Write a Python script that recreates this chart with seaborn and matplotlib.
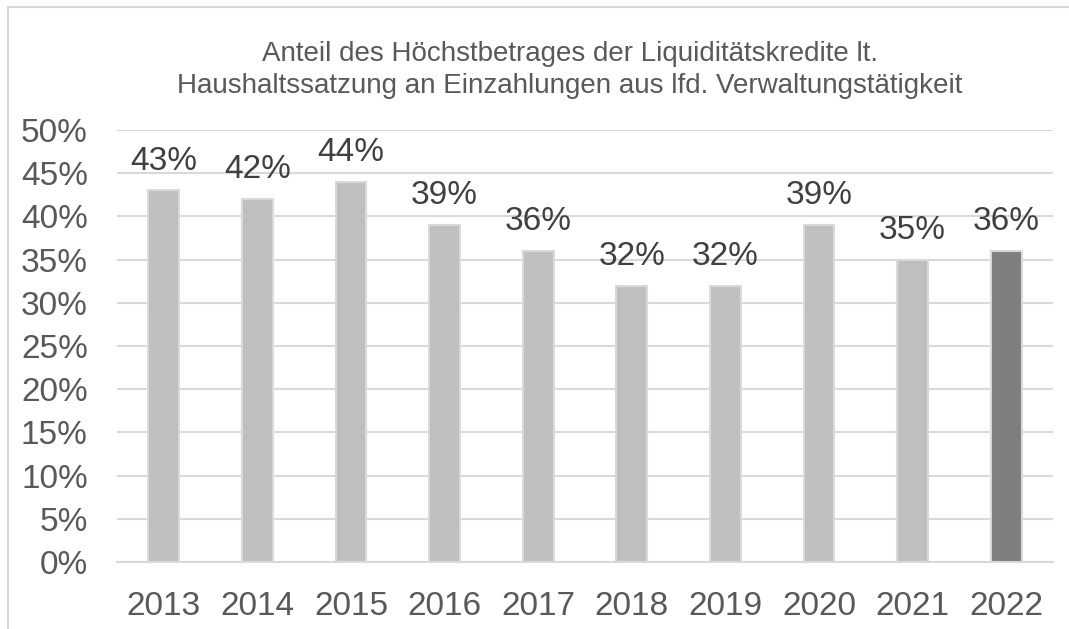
import numpy as np
import pandas as pd
import matplotlib.pyplot as plt
import seaborn as sns
from matplotlib.patches import Rectangle

# chart values
years = ['2013', '2014', '2015', '2016', '2017', '2018', '2019', '2020', '2021', '2022']
shares = [0.43, 0.42, 0.44, 0.39, 0.36, 0.32, 0.32, 0.39, 0.35, 0.36]
title = ('Anteil des Höchstbetrages der Liquiditätskredite lt.\n'
         'Haushaltssatzung an Einzahlungen aus lfd. Verwaltungstätigkeit')

df = pd.DataFrame({'year': years, 'share': shares})

sns.set_style('white')
plt.rcParams['font.family'] = ['Liberation Sans', 'DejaVu Sans']

fig = plt.figure(figsize=(10.69, 6.29), dpi=100)
ax = fig.add_axes([0.1094, 0.1065, 0.8756, 0.6868])

colors = ['#BFBFBF'] * (len(years) - 1) + ['#7F7F7F']
sns.barplot(data=df, x='year', y='share', hue='year', palette=colors,
            legend=False, width=0.33, edgecolor='#D9D9D9', linewidth=1.5,
            ax=ax, zorder=3)

ax.set_ylim(0, 0.5)
ax.set_xlim(-0.5, len(years) - 0.5)
ax.set_yticks(np.arange(0, 0.51, 0.05))
ax.set_yticklabels([f'{int(round(v * 100))}%' for v in np.arange(0, 0.51, 0.05)])
ax.yaxis.grid(True, color='#D9D9D9', linewidth=1.5, zorder=0)
ax.set_axisbelow(True)
ax.tick_params(axis='both', length=0, labelsize=24, labelcolor='#595959')
ax.tick_params(axis='x', pad=21)
ax.tick_params(axis='y', pad=21)
ax.set_xlabel('')
ax.set_ylabel('')
for s in ['top', 'right', 'left']:
    ax.spines[s].set_visible(False)
ax.spines['bottom'].set_color('#D9D9D9')
ax.spines['bottom'].set_linewidth(1.5)

for i, v in enumerate(shares):
    ax.annotate(f'{int(round(v * 100))}%', (i, v), xytext=(0, 10),
                textcoords='offset points', ha='center', va='bottom',
                fontsize=24, color='#404040')

fig.text(0.533, 0.888, title, ha='center', va='center', fontsize=20,
         color='#595959', linespacing=1.3)

# chart area border (cropped on right/bottom)
fig.patches.append(Rectangle((8 / 1069, -0.1), 1.2, 1.1 - 7 / 629,
                             transform=fig.transFigure, fill=False,
                             edgecolor='#D9D9D9', linewidth=1.5))

fig.savefig('out.png', dpi=100)
